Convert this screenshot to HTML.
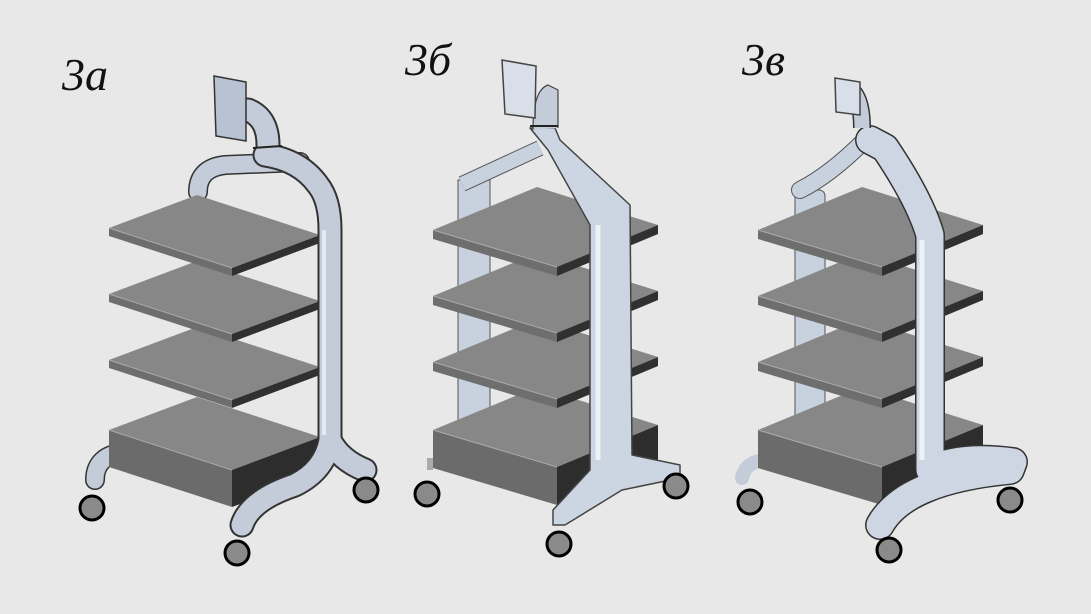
<!DOCTYPE html>
<html><head><meta charset="utf-8"><style>
html,body{margin:0;padding:0;background:#e8e8e8;}
svg{display:block}
text{font-family:"Liberation Serif",serif;font-style:italic;fill:#111;}
</style></head><body>
<svg width="1091" height="614" viewBox="0 0 1091 614" xmlns="http://www.w3.org/2000/svg">
<defs>
<g id="shelfA">
  <polygon points="109,228 197,195 320,235 232,268" fill="#878787"/>
  <polygon points="109,228 232,268 232,276 109,236" fill="#6e6e6e"/>
  <polygon points="232,268 320,235 320,243 232,276" fill="#303030"/>
  <line x1="109" y1="228" x2="232" y2="268" stroke="#aaa" stroke-width="1"/>
</g>
<g id="baseA">
  <polygon points="109,430 197,397 320,437 232,470" fill="#878787"/>
  <polygon points="109,430 232,470 232,507 109,467" fill="#6b6b6b"/>
  <polygon points="232,470 320,437 320,474 232,507" fill="#2d2d2d"/>
  <line x1="109" y1="430" x2="232" y2="470" stroke="#aaa" stroke-width="1"/>
</g>
<g id="shelfB">
  <polygon points="433,230 537,187 658,225 557,267" fill="#878787"/>
  <polygon points="433,230 557,267 557,276 433,239" fill="#6e6e6e"/>
  <polygon points="557,267 658,225 658,234 557,276" fill="#303030"/>
  <line x1="433" y1="230" x2="557" y2="267" stroke="#aaa" stroke-width="1"/>
</g>
<g id="baseB">
  <polygon points="433,430 537,387 658,425 557,467" fill="#878787"/>
  <polygon points="433,430 557,467 557,505 433,468" fill="#6b6b6b"/>
  <polygon points="557,467 658,425 658,463 557,505" fill="#2d2d2d"/>
  <line x1="433" y1="430" x2="557" y2="467" stroke="#aaa" stroke-width="1"/>
</g>
</defs>

<text x="62" y="90" font-size="46">3а</text>
<text x="405" y="75" font-size="46">3б</text>
<text x="742" y="75" font-size="46">3в</text>

<!-- ===== Cart A ===== -->
<path d="M95,480 Q95,455 125,452" fill="none" stroke="#333" stroke-width="20" stroke-linecap="round"/>
<path d="M95,480 Q95,455 125,452" fill="none" stroke="#c3ccd8" stroke-width="17" stroke-linecap="round"/>
<path d="M198,192 Q198,168 225,165 L300,162" fill="none" stroke="#333" stroke-width="20" stroke-linecap="round"/>
<path d="M198,192 Q198,168 225,165 L300,162" fill="none" stroke="#c3ccd8" stroke-width="17" stroke-linecap="round"/>
<use href="#baseA"/>
<use href="#shelfA" transform="translate(0,132)"/>
<use href="#shelfA" transform="translate(0,66)"/>
<use href="#shelfA"/>
<path d="M268,145 Q268,118 248,110 M265,155 Q300,160 318,185 Q330,200 330,230 L330,440 Q325,470 295,485 Q250,500 242,525 M330,440 Q340,460 365,470" fill="none" stroke="#333" stroke-width="25" stroke-linecap="round" stroke-linejoin="round"/>
<path d="M268,145 Q268,118 248,110 M265,155 Q300,160 318,185 Q330,200 330,230 L330,440 Q325,470 295,485 Q250,500 242,525 M330,440 Q340,460 365,470" fill="none" stroke="#c3ccd8" stroke-width="21" stroke-linecap="round" stroke-linejoin="round"/>
<path d="M324,230 L324,435" stroke="#e4eaf2" stroke-width="4" fill="none"/>
<path d="M253,148 L282,146" stroke="#222" stroke-width="2"/>
<polygon points="214,76 246,82 246,141 216,136" fill="#b7c2d2" stroke="#333" stroke-width="1.5"/>
<circle cx="92" cy="508" r="12" fill="#8a8a8a" stroke="#000" stroke-width="3"/>
<circle cx="237" cy="553" r="12" fill="#8a8a8a" stroke="#000" stroke-width="3"/>
<circle cx="366" cy="490" r="12" fill="#8a8a8a" stroke="#000" stroke-width="3"/>

<!-- ===== Cart B ===== -->
<rect x="458" y="180" width="32" height="290" fill="#c8d1de" stroke="#555" stroke-width="1"/>
<path d="M430,470 L430,458" stroke="#aaa" stroke-width="6"/>
<path d="M462,184 L540,148" stroke="#555" stroke-width="16" fill="none"/>
<path d="M462,184 L540,148" stroke="#c8d1de" stroke-width="14" fill="none"/>
<use href="#baseB"/>
<use href="#shelfB" transform="translate(0,132)"/>
<use href="#shelfB" transform="translate(0,66)"/>
<use href="#shelfB"/>
<path d="M530,128 L555,128 L560,140 L630,205 L632,455 L680,465 L680,478 L622,490 L565,525 L553,525 L553,510 L590,470 L590,225 L548,150 Z" fill="#ccd5e2" stroke="#444" stroke-width="1.5" stroke-linejoin="round"/>
<path d="M598,225 L598,460" stroke="#eef2f7" stroke-width="5"/>
<path d="M533,130 Q533,90 548,85 L558,90 L558,128" fill="#c3ccd8" stroke="#444" stroke-width="1.2"/>
<path d="M530,126 L558,126" stroke="#222" stroke-width="2"/>
<polygon points="502,60 536,66 535,118 505,114" fill="#d9dfe8" stroke="#444" stroke-width="1.5"/>
<circle cx="427" cy="494" r="12" fill="#8a8a8a" stroke="#000" stroke-width="3"/>
<circle cx="559" cy="544" r="12" fill="#8a8a8a" stroke="#000" stroke-width="3"/>
<circle cx="676" cy="486" r="12" fill="#8a8a8a" stroke="#000" stroke-width="3"/>

<!-- ===== Cart C ===== -->
<rect x="795" y="190" width="30" height="275" rx="6" fill="#c8d1de" stroke="#555" stroke-width="1"/>
<path d="M800,190 Q830,175 865,140" stroke="#555" stroke-width="18" fill="none" stroke-linecap="round"/>
<path d="M800,190 Q830,175 865,140" stroke="#c8d1de" stroke-width="16" fill="none" stroke-linecap="round"/>
<path d="M742,478 Q745,462 765,460" stroke="#c3ccd8" stroke-width="14" fill="none" stroke-linecap="round"/>
<use href="#baseB" transform="translate(325,0)"/>
<use href="#shelfB" transform="translate(325,132)"/>
<use href="#shelfB" transform="translate(325,66)"/>
<use href="#shelfB" transform="translate(325,0)"/>
<path d="M880,525 Q905,480 1010,470 L1013,462 Q960,455 930,470 L930,235 Q920,200 885,148 L870,140" fill="none" stroke="#333" stroke-width="30" stroke-linejoin="round" stroke-linecap="round"/>
<path d="M880,525 Q905,480 1010,470 L1013,462 Q960,455 930,470 L930,235 Q920,200 885,148 L870,140" fill="none" stroke="#cdd6e2" stroke-width="27" stroke-linejoin="round" stroke-linecap="round"/>
<path d="M922,240 L922,460" stroke="#eef2f7" stroke-width="5"/>
<path d="M862,128 Q862,95 848,88" stroke="#333" stroke-width="18" fill="none"/>
<path d="M862,128 Q862,95 848,88" stroke="#c3ccd8" stroke-width="15" fill="none"/>
<polygon points="835,78 860,82 860,115 836,112" fill="#d9dfe8" stroke="#444" stroke-width="1.5"/>
<circle cx="750" cy="502" r="12" fill="#8a8a8a" stroke="#000" stroke-width="3"/>
<circle cx="889" cy="550" r="12" fill="#8a8a8a" stroke="#000" stroke-width="3"/>
<circle cx="1010" cy="500" r="12" fill="#8a8a8a" stroke="#000" stroke-width="3"/>
</svg>
</body></html>
